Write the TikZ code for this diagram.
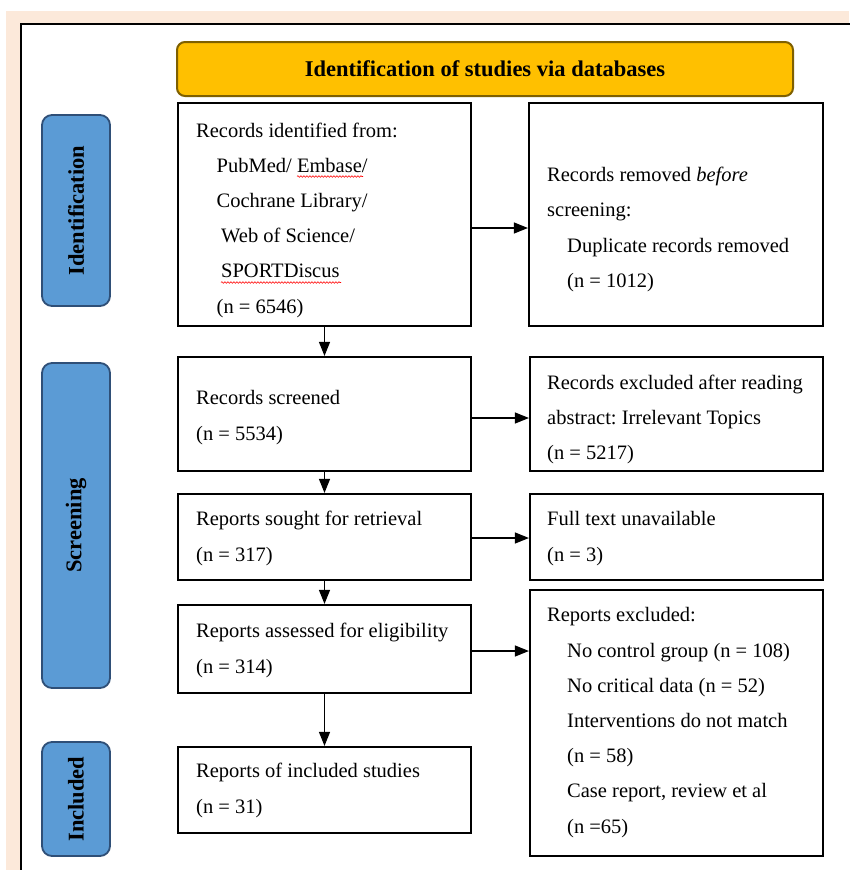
\documentclass[tikz,border=0pt]{standalone}
\usepackage{fontspec}
\setmainfont{Liberation Serif}
\usetikzlibrary{arrows.meta,positioning,decorations.pathmorphing}
\definecolor{prbeige}{HTML}{FCE9DA}
\definecolor{prgold}{HTML}{FFC000}
\definecolor{prgoldline}{HTML}{7F6000}
\definecolor{prblue}{HTML}{5B9BD5}
\definecolor{prnavy}{HTML}{2F4F77}
\frenchspacing

\begin{document}
\begin{tikzpicture}[x=1pt, y=-1pt,
    box/.style={draw=black, line width=2.2pt, fill=white, inner sep=0pt},
    txt/.style={anchor=west, inner sep=0pt, align=left,
                font=\fontsize{20.5}{35.2}\selectfont},
    phase/.style={draw=prnavy, fill=prblue, line width=1.8pt, rounded corners=10pt,
                  minimum height=68pt, inner sep=0pt, rotate=90,
                  font=\fontsize{22.5}{26}\selectfont\bfseries},
    head/.style={draw=prgoldline, fill=prgold, line width=2pt, rounded corners=8pt,
                 minimum width=616pt, minimum height=54pt, inner sep=0pt,
                 font=\fontsize{22.5}{26}\selectfont\bfseries},
    arr/.style={-{Triangle[length=14pt, width=11pt]}, line width=1.2pt},
    spell/.style={draw=red, line width=0.6pt, decorate,
                  decoration={snake, segment length=3pt, amplitude=0.8pt}}
]
  \useasboundingbox (0,0) rectangle (849,870);
  % page background
  \fill[prbeige] (6,11) rectangle (849,870);
  \draw[line width=2.4pt, fill=white] (21,24) rectangle (880,900);

  \node[head] (head) at (485,69) {Identification of studies via databases};

  % phases
  \node[phase, minimum width=191pt] (idph) at (76,210.5) {Identification};
  \node[phase, minimum width=325pt] (scph) at (76,525.5) {Screening};
  \node[phase, minimum width=114pt] (inph) at (76,799) {Included};

  % left column
  \node[box, minimum width=293pt, minimum height=223pt] (rec) at (324.5,214.5) {};
  \node[box, minimum width=293pt, minimum height=114pt] (scr) at (324.5,414) {};
  \node[box, minimum width=293pt, minimum height=86pt] (sou) at (324.5,537) {};
  \node[box, minimum width=293pt, minimum height=88pt] (ass) at (324.5,649) {};
  \node[box, minimum width=293pt, minimum height=86pt] (inc) at (324.5,790) {};

  % right column
  \node[box, minimum width=294pt, minimum height=223pt] (rem) at (676,214.5) {};
  \node[box, minimum width=293pt, minimum height=114pt] (exc) at (676.5,414) {};
  \node[box, minimum width=293pt, minimum height=86pt] (una) at (676.5,537) {};
  \node[box, minimum width=293pt, minimum height=266pt] (rex) at (676.5,723) {};

  % texts
  \node[txt] (recT) at (196,220) {Records identified from:\\
    \hspace{20.5pt}PubMed/ Embase/\\
    \hspace{20.5pt}Cochrane Library/\\
    \hspace{25pt}Web of Science/\\
    \hspace{25pt}SPORTDiscus\\
    \hspace{20.5pt}(n = 6546)};
  \node[txt] (remT) at (547,229.5) {Records removed \emph{before}\\
    screening:\\
    \hspace{20pt}Duplicate records removed\\
    \hspace{20pt}(n = 1012)};
  \node[txt] (scrT) at (196,417.5) {Records screened\\(n = 5534)};
  \node[txt] (excT) at (547,419.5) {Records excluded after reading\\
    abstract: Irrelevant Topics\\(n = 5217)};
  \node[txt] (souT) at (196,538.5) {Reports sought for retrieval\\(n = 317)};
  \node[txt] (unaT) at (547,538.5) {Full text unavailable\\(n = 3)};
  \node[txt] (assT) at (196,650.5) {Reports assessed for eligibility\\(n = 314)};
  \node[txt] (rexT) at (547,722.5) {Reports excluded:\\
    \hspace{20pt}No control group (n = 108)\\
    \hspace{20pt}No critical data (n = 52)\\
    \hspace{20pt}Interventions do not match\\
    \hspace{20pt}(n = 58)\\
    \hspace{20pt}Case report, review et al\\
    \hspace{20pt}(n =65)};
  \node[txt] (incT) at (196,790.5) {Reports of included studies\\(n = 31)};

  % spell-check marks
  \draw[spell] (297,176.5) -- (363,176.5);
  \draw[spell] (221,282.5) -- (341,282.5);

  % connectors
  \draw[arr] (rec.south) -- (scr.north);
  \draw[arr] (scr.south) -- (sou.north);
  \draw[arr] (sou.south) -- (ass.north);
  \draw[arr] (ass.south) -- (inc.north);
  \draw[arr] ([yshift=-13.5pt]rec.east) -- ([yshift=-13.5pt]rem.west);
  \draw[arr] ([yshift=-4pt]scr.east) -- ([yshift=-4pt]exc.west);
  \draw[arr] ([yshift=-1pt]sou.east) -- ([yshift=-1pt]una.west);
  \draw[arr] ([yshift=-2pt]ass.east) -- ([yshift=-2pt]ass.east -| rex.west);
\end{tikzpicture}
\end{document}
